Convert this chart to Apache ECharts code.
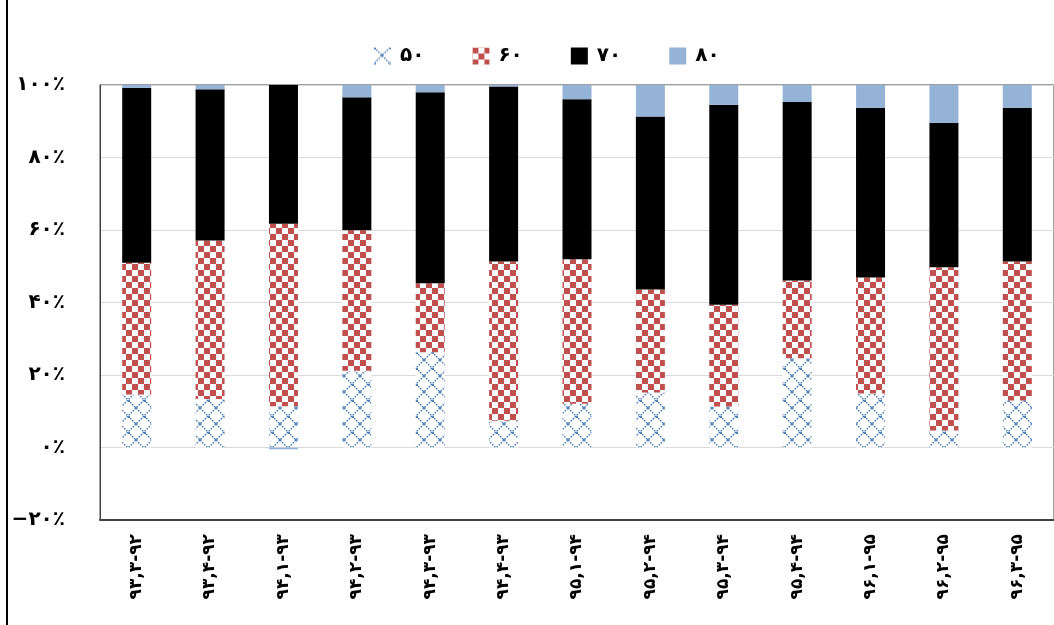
<!DOCTYPE html>
<html><head><meta charset="utf-8">
<script src="https://cdn.jsdelivr.net/npm/echarts@6/dist/echarts.min.js"></script>
<style>html,body{margin:0;padding:0;background:#fff}#c{width:1054px;height:625px}</style>
</head><body><div id="c"></div>
<script>
const categories = ["۹۳,۳-۹۲","۹۳,۴-۹۲","۹۴,۱-۹۳","۹۴,۲-۹۳","۹۴,۳-۹۳","۹۴,۴-۹۳","۹۵,۱-۹۴","۹۵,۲-۹۴","۹۵,۳-۹۴","۹۵,۴-۹۴","۹۶,۱-۹۵","۹۶,۲-۹۵","۹۶,۳-۹۵"];
const seriesNames = ["۵۰","۶۰","۷۰","۸۰"];
const s50 = [14.6,13.4,11.4,21.2,26.3,7.4,12.1,15.2,11.3,24.6,14.9,4.7,13.0];
const s60 = [36.4,43.7,50.3,38.7,19.0,43.9,39.8,28.4,28.1,21.5,32.0,45.0,38.3];
const s70 = [48.2,41.7,38.3,36.7,52.7,48.3,44.2,47.7,55.1,49.2,46.8,39.8,42.4];
const s80 = [0.8,1.2,-0.5,3.4,2.0,0.4,3.9,8.7,5.5,4.7,6.3,10.5,6.3];
const yTicks = {"-20":"−۲۰٪","0":"۰٪","20":"۲۰٪","40":"۴۰٪","60":"۶۰٪","80":"۸۰٪","100":"۱۰۰٪"};

function checker(){
  const c=document.createElement('canvas');c.width=12;c.height=12;
  const g=c.getContext('2d');g.fillStyle='#fff';g.fillRect(0,0,12,12);
  g.fillStyle='#C0504D';g.fillRect(0,0,6,6);g.fillRect(6,6,6,6);return c;
}
function lattice(){
  const n=16;const c=document.createElement('canvas');c.width=n;c.height=n;
  const g=c.getContext('2d');g.fillStyle='#fff';g.fillRect(0,0,n,n);
  g.fillStyle='#4F81BD';
  for(let i=0;i<n;i+=2){g.fillRect(i,i,1.5,1.5);g.fillRect(n-1.5-i,i,1.5,1.5);}
  g.fillRect(7,7,2,2);g.fillRect(0,0,2,2);
  return c;
}
const fonts='"DejaVu Sans", sans-serif';
const chart=echarts.init(document.getElementById('c'));
const colors=[{image:lattice(),repeat:'repeat'},{image:checker(),repeat:'repeat'},'#000000','#95B3D7'];
const data=[s50,s60,s70,s80];
chart.setOption({
  animation:false,
  backgroundColor:'#fff',
  graphic:[{type:'line',shape:{x1:7,y1:0,x2:7,y2:625},style:{stroke:'#000',lineWidth:2}}],
  legend:{top:41,left:369,itemWidth:17,itemHeight:17,itemGap:48,icon:'rect',
    textStyle:{fontFamily:fonts,fontWeight:'bold',fontSize:20,color:'#000',padding:[0,0,0,4]},
    data:seriesNames},
  grid:{left:100,right:-12,top:85,bottom:105,show:true,borderColor:'#404040',borderWidth:1},
  xAxis:{type:'category',data:categories,
    axisLine:{onZero:false,lineStyle:{color:'#404040',width:2}},axisTick:{show:false},
    axisLabel:{rotate:90,interval:0,margin:14,fontFamily:fonts,fontWeight:'bold',fontSize:17,color:'#000'}},
  yAxis:{type:'value',min:-20,max:100,interval:20,
    axisLine:{show:true,lineStyle:{color:'#404040',width:1}},axisTick:{show:false},
    splitLine:{lineStyle:{color:'#d9d9d9',width:1}},
    axisLabel:{margin:35,fontFamily:fonts,fontWeight:'bold',fontSize:20,color:'#000',
      formatter:v=>yTicks[String(v)]}},
  series:seriesNames.map((nm,i)=>({name:nm,type:'bar',stack:'a',barWidth:29,
    itemStyle:{color:colors[i]},data:data[i]}))
});
</script></body></html>
